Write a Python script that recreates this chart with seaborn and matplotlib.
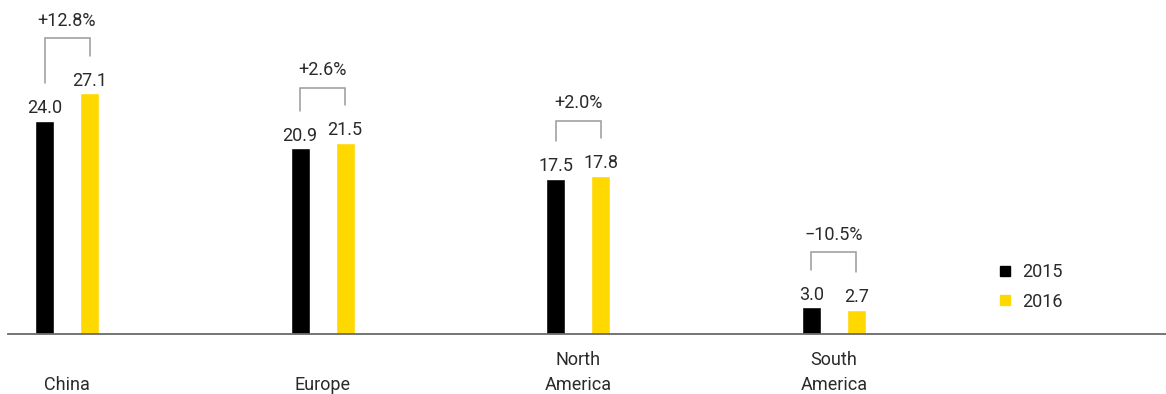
import matplotlib
matplotlib.use("Agg")
import matplotlib.pyplot as plt
from matplotlib.lines import Line2D
import seaborn as sns
import pandas as pd

# Data
regions = ["China", "Europe", "North\nAmerica", "South\nAmerica"]
years = ["2015", "2016"]
values_2015 = [24.0, 20.9, 17.5, 3.0]
values_2016 = [27.1, 21.5, 17.8, 2.7]
changes = ["+12.8%", "+2.6%", "+2.0%", "\u221210.5%"]

BLACK = "#000000"
YELLOW = "#FFD800"
TEXT = "#2a2a2a"
GREY = "#9a9a9a"

sns.set_theme(style="white")
plt.rcParams["font.family"] = ["Roboto", "DejaVu Sans"]
plt.rcParams["font.weight"] = "normal"

df = pd.DataFrame({
    "region": regions * 2,
    "year": [years[0]] * len(regions) + [years[1]] * len(regions),
    "value": values_2015 + values_2016,
})

W, H = 1166, 394
fig = plt.figure(figsize=(W / 100, H / 100), dpi=100)
ax = fig.add_axes([8 / W, 60 / H, (W - 8) / W, 334 / H])

sns.barplot(data=df, x="region", y="value", hue="year", order=regions,
            hue_order=years, palette=[BLACK, YELLOW], width=0.352, gap=0.58,
            saturation=1, legend=False, ax=ax)

ax.set_xlim(-0.2308, 4.2986)
ax.set_ylim(0, 37.63)

fs = 13
off = 0.088
for i, (a, b) in enumerate(zip(values_2015, values_2016)):
    xa, xb = i - off, i + off
    ax.text(xa, a + 1.45, f"{a:.1f}", ha="center", va="center", fontsize=fs, color=TEXT)
    ax.text(xb, b + 1.45, f"{b:.1f}", ha="center", va="center", fontsize=fs, color=TEXT)
    top = max(a, b) + 6.2
    ax.plot([xa, xa, xb, xb], [a + 4.25, top, top, b + 4.25],
            color=GREY, lw=1.1, solid_joinstyle="miter")
    ax.text(i, max(a, b) + 8.2, changes[i], ha="center", va="center",
            fontsize=fs, color=TEXT)

# Axes styling
for s in ["top", "right", "left"]:
    ax.spines[s].set_visible(False)
ax.spines["bottom"].set_color("#6a6a6a")
ax.spines["bottom"].set_linewidth(1.3)
ax.set_yticks([])
ax.set_xlabel("")
ax.set_ylabel("")
ax.set_xticks(range(len(regions)))
ax.set_xticklabels(regions, fontsize=fs, color=TEXT, linespacing=1.45)
ax.tick_params(axis="x", length=0, pad=43)
for lbl in ax.get_xticklabels():
    lbl.set_verticalalignment("bottom")

handles = [Line2D([], [], marker="s", linestyle="", markersize=7.5,
                  color=c) for c in (BLACK, YELLOW)]
ax.legend(handles, years, loc="center left", frameon=False,
          bbox_to_anchor=(982 / W, 1 - 287 / H), bbox_transform=fig.transFigure,
          fontsize=fs, handlelength=0.7, handletextpad=0.6, labelspacing=0.62,
          labelcolor=TEXT)

fig.savefig("out.png", dpi=100)
